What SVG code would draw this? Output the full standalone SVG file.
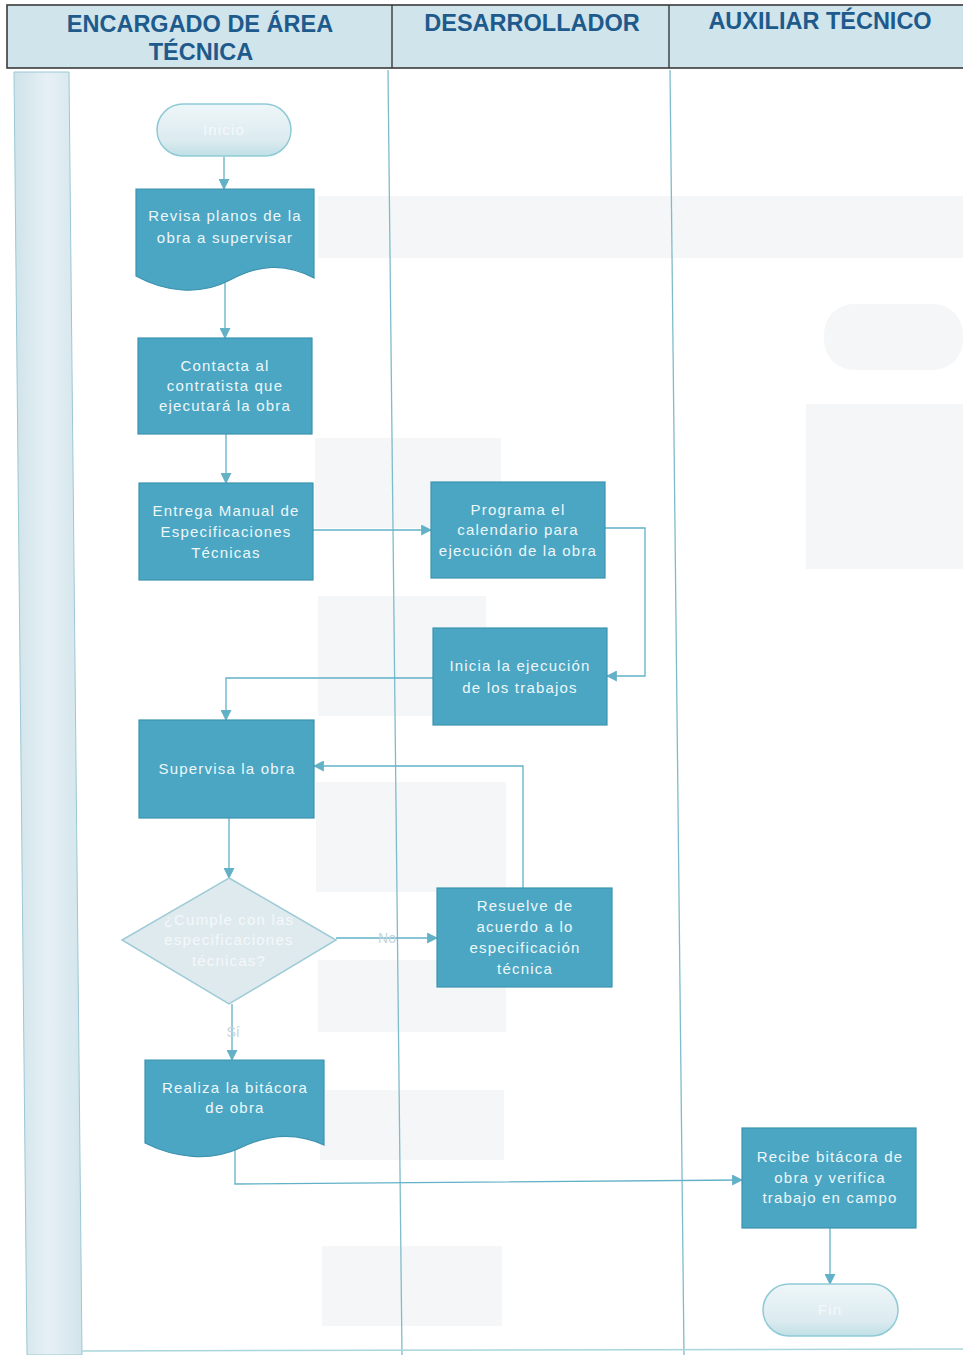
<svg xmlns="http://www.w3.org/2000/svg" width="963" height="1355" viewBox="0 0 963 1355">
<defs>
<style>
.hdr{font-family:"Liberation Sans",Arial,sans-serif;font-weight:bold;font-size:23.5px;fill:#1e5a8c;text-anchor:middle}
.nt{font-family:"Liberation Sans",Arial,sans-serif;font-size:15px;fill:#eef7fa;text-anchor:middle;letter-spacing:1.2px}
.ft{font-family:"Liberation Sans",Arial,sans-serif;font-size:15px;fill:#f4f8fa;text-anchor:middle;letter-spacing:1.2px}
.lbl{font-family:"Liberation Sans",Arial,sans-serif;font-size:14px;fill:#c4d6dc;text-anchor:middle}
.proc{fill:#4aa6c3;stroke:#3d93b0;stroke-width:1.2}
.term{fill:url(#tg);stroke:#8fcad6;stroke-width:1.5}
.dec{fill:#dfeaee;stroke:#9dcbd6;stroke-width:1.5}
.lane{stroke:#7fbccb;stroke-width:1.3;fill:none}
.cn{stroke:#62b1c7;stroke-width:1.3;fill:none;marker-end:url(#ah)}
</style>
<linearGradient id="tg" x1="0" y1="0" x2="0" y2="1">
<stop offset="0" stop-color="#eef6f8"/>
<stop offset="0.7" stop-color="#dcebf0"/>
<stop offset="1" stop-color="#bfe0e6"/>
</linearGradient>
<linearGradient id="bandg" x1="0" y1="0" x2="1" y2="0">
<stop offset="0" stop-color="#cfe3ea"/>
<stop offset="0.5" stop-color="#e6f0f4"/>
<stop offset="1" stop-color="#d2e5ec"/>
</linearGradient>
<marker id="ah" viewBox="0 0 10 10" refX="9" refY="5" markerWidth="11" markerHeight="11" orient="auto" markerUnits="userSpaceOnUse">
<path d="M0,0 L10,5 L0,10 z" fill="#62b1c7"/>
</marker>
</defs>
<rect x="0" y="0" width="963" height="1355" fill="#ffffff"/>
<!-- faint bleed-through -->
<g id="bleed" fill="#f5f6f7">
<rect x="318" y="196" width="645" height="62"/>
<rect x="315" y="438" width="186" height="90"/>
<rect x="318" y="596" width="168" height="120"/>
<rect x="316" y="782" width="190" height="110"/>
<rect x="318" y="960" width="188" height="72"/>
<rect x="320" y="1090" width="184" height="70"/>
<rect x="322" y="1246" width="180" height="80"/>
<rect x="806" y="404" width="157" height="165"/>
<rect x="824" y="304" width="139" height="66" rx="30"/>
</g>
<!-- header -->
<g id="header">
<rect x="7" y="5" width="970" height="63" fill="#cfe4eb" stroke="#3a3a3a" stroke-width="1.6"/>
<line x1="392" y1="5" x2="392" y2="68" stroke="#3a3a3a" stroke-width="1.4"/>
<line x1="669" y1="5" x2="669" y2="68" stroke="#3a3a3a" stroke-width="1.4"/>
<text class="hdr" x="200" y="32">ENCARGADO DE ÁREA</text>
<text class="hdr" x="201" y="60">TÉCNICA</text>
<text class="hdr" x="532" y="31">DESARROLLADOR</text>
<text class="hdr" x="820" y="29">AUXILIAR TÉCNICO</text>
</g>
<!-- pool band and lanes -->
<g id="lanes">
<polygon points="14,72 69,72 82,1355 27,1355" fill="url(#bandg)" stroke="#9cc8d3" stroke-width="1"/>
<line class="lane" x1="388" y1="70" x2="402" y2="1355"/>
<line class="lane" x1="670" y1="70" x2="684" y2="1355"/>
<line x1="82" y1="1351" x2="963" y2="1349" stroke="#a9d6dc" stroke-width="1.5"/>
</g>
<!-- connectors -->
<g id="connectors">
<path class="cn" d="M224,157 L224,189"/>
<path class="cn" d="M225,282 L225,338"/>
<path class="cn" d="M226,434 L226,483"/>
<path class="cn" d="M313,530 L431,530"/>
<path class="cn" d="M605,528 L645,528 L645,676 L607,676"/>
<path class="cn" d="M433,678 L226,678 L226,720"/>
<path class="cn" d="M229,818 L229,878"/>
<path class="cn" d="M336,938 L437,938"/>
<path class="cn" d="M523,888 L523,766 L314,766"/>
<path class="cn" d="M232,1004 L232,1060"/>
<path class="cn" d="M235,1140 L235,1184 L742,1180"/>
<path class="cn" d="M830,1228 L830,1284"/>
<text class="lbl" x="387" y="943">No</text>
<text class="lbl" x="233" y="1037">Sí</text>
</g>
<!-- nodes -->
<g id="n-inicio">
<rect class="term" x="157" y="104" width="134" height="52" rx="26"/>
<text class="ft" x="224" y="135">Inicio</text>
</g>
<g id="n-revisa">
<path class="proc" d="M136,189 L314,189 L314,278 C285,262 258,265 230,280 C200,296 165,292 136,276 Z"/>
<text class="nt" x="225" y="221">Revisa planos de la</text>
<text class="nt" x="225" y="243">obra a supervisar</text>
</g>
<g id="n-contacta">
<rect class="proc" x="138" y="338" width="174" height="96"/>
<text class="nt" x="225" y="371">Contacta al</text>
<text class="nt" x="225" y="391">contratista que</text>
<text class="nt" x="225" y="411">ejecutará la obra</text>
</g>
<g id="n-entrega">
<rect class="proc" x="139" y="483" width="174" height="97"/>
<text class="nt" x="226" y="516">Entrega Manual de</text>
<text class="nt" x="226" y="537">Especificaciones</text>
<text class="nt" x="226" y="558">Técnicas</text>
</g>
<g id="n-programa">
<rect class="proc" x="431" y="482" width="174" height="96"/>
<text class="nt" x="518" y="515">Programa el</text>
<text class="nt" x="518" y="535">calendario para</text>
<text class="nt" x="518" y="556">ejecución de la obra</text>
</g>
<g id="n-inicia">
<rect class="proc" x="433" y="628" width="174" height="97"/>
<text class="nt" x="520" y="671">Inicia la ejecución</text>
<text class="nt" x="520" y="693">de los trabajos</text>
</g>
<g id="n-supervisa">
<rect class="proc" x="139" y="720" width="175" height="98"/>
<text class="nt" x="227" y="774">Supervisa la obra</text>
</g>
<g id="n-cumple">
<polygon class="dec" points="229,878 336,940 229,1004 122,940"/>
<text class="ft" x="229" y="925">¿Cumple con las</text>
<text class="ft" x="229" y="945">especificaciones</text>
<text class="ft" x="229" y="966">técnicas?</text>
</g>
<g id="n-resuelve">
<rect class="proc" x="437" y="888" width="175" height="99"/>
<text class="nt" x="525" y="911">Resuelve de</text>
<text class="nt" x="525" y="932">acuerdo a lo</text>
<text class="nt" x="525" y="953">especificación</text>
<text class="nt" x="525" y="974">técnica</text>
</g>
<g id="n-realiza">
<path class="proc" d="M145,1060 L324,1060 L324,1145 C296,1132 268,1134 240,1148 C210,1162 175,1158 145,1143 Z"/>
<text class="nt" x="235" y="1093">Realiza la bitácora</text>
<text class="nt" x="235" y="1113">de obra</text>
</g>
<g id="n-recibe">
<rect class="proc" x="742" y="1128" width="174" height="100"/>
<text class="nt" x="830" y="1162">Recibe bitácora de</text>
<text class="nt" x="830" y="1183">obra y verifica</text>
<text class="nt" x="830" y="1203">trabajo en campo</text>
</g>
<g id="n-fin">
<rect class="term" x="763" y="1284" width="135" height="52" rx="26"/>
<text class="ft" x="830" y="1315">Fin</text>
</g>
</svg>
